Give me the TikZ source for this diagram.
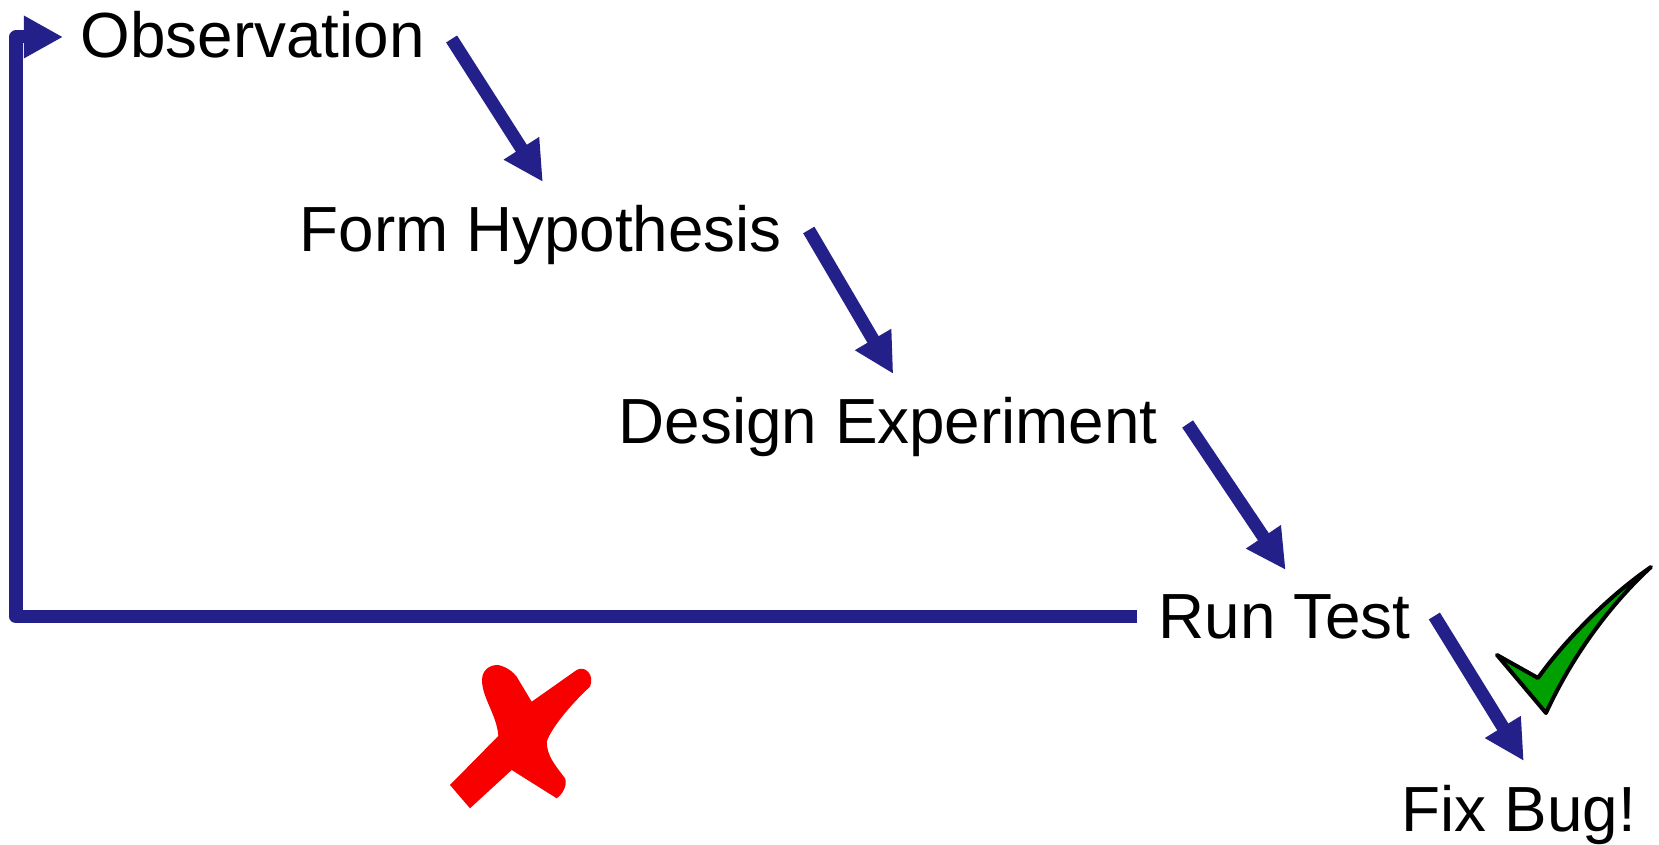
\documentclass[tikz,border=0pt]{standalone}
\usepackage{fontspec}
\setmainfont{Liberation Sans}
\usepackage{tikz}
\usetikzlibrary{arrows.meta, calc}

\definecolor{flowblue}{RGB}{35,32,137}
\definecolor{okgreen}{RGB}{0,160,0}
\definecolor{badred}{RGB}{248,0,0}

\tikzset{
  stage/.style={anchor=base west, inner sep=0pt, font=\fontsize{15.95bp}{19bp}\selectfont},
  flow/.style={draw=flowblue, line width=3.25bp, -{Triangle[width=9.8bp,length=10bp]}},
  back/.style={draw=flowblue, line width=3.25bp, line join=round, -{Triangle[width=10bp,length=9.8bp]}}
}

\begin{document}
\begin{tikzpicture}[x=0.25bp, y=-0.25bp]
	\useasboundingbox (0,0) rectangle (1659,845);

	% die Schritte, treppenartig
	\node[stage] (obs) at (80,58)   {Observation};
	\node[stage] (hyp) at (299,252) {Form Hypothesis};
	\node[stage] (des) at (618,444) {Design Experiment};
	\node[stage] (run) at (1158,639) {Run Test};
	\node[stage] (fix) at (1401,832) {Fix Bug!};

	% schraege Pfeile zum naechsten Schritt
	\foreach \a/\b/\sx/\sy/\ex/\ey in {obs/hyp/26/-19/2/-70, hyp/des/26/-22/5/-70,
		des/run/29/-20/1/-69, run/fix/23/-23/5/-71}
		\draw[flow] ($(\a.base east)+(\sx,\sy)$) -- ($(\b.base)+(\ex,\ey)$);

	% Rueckweg vom Test zur Beobachtung
	\draw[back] ($(run.base west)+(-21,-22)$) -| (16,37) -- ($(obs.base west)+(-17,-21)$);

	% Haken (Erfolg)
	\filldraw[fill=okgreen, draw=black, line width=1bp, line join=round]
		(1497,655) -- (1538,678) .. controls (1565,640) and (1610,595) .. (1651,567)
		.. controls (1615,600) and (1575,650) .. (1546,713) -- cycle;

	% Kreuz (Fehlschlag)
	\fill[badred] (531.7,701.7) -- (576.7,670) .. controls (585,665) and (595,675) .. (590,686.7)
		.. controls (570,705) and (550,730) .. (546.7,742)
		.. controls (547,756) and (555,765) .. (565,778.3)
		.. controls (568,785) and (562,795) .. (556.7,798.3) -- (511.7,770) -- (470,808.3)
		-- (450,785) -- (498.3,736) .. controls (497,715) and (482,698) .. (482,680)
		.. controls (482,667) and (495,663) .. (501.7,666)
		.. controls (508,668) and (513,672) .. (516.7,676.7) -- cycle;
\end{tikzpicture}
\end{document}
